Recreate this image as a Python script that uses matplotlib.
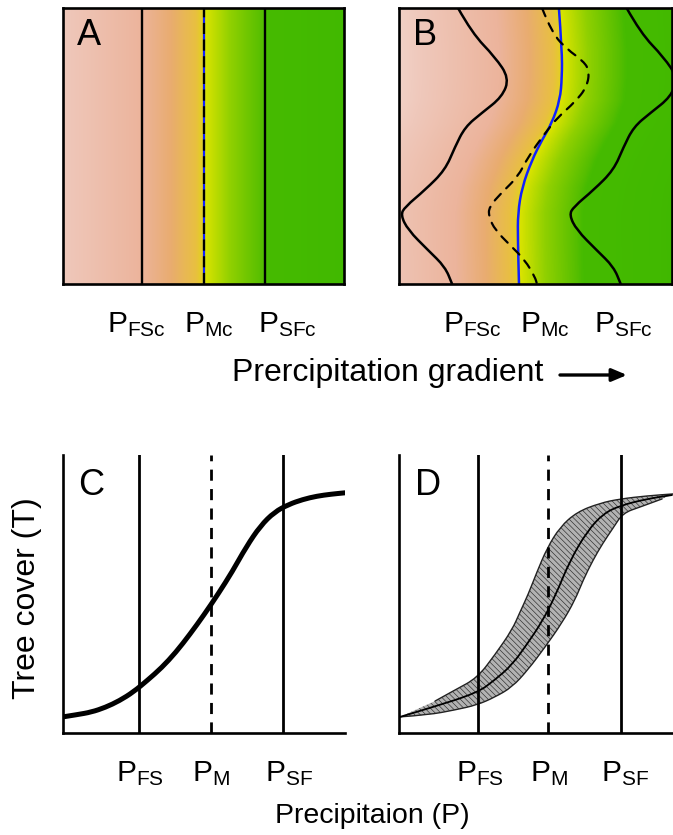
import numpy as np
import matplotlib
matplotlib.use("Agg")
import matplotlib.pyplot as plt
from matplotlib.colors import LinearSegmentedColormap
from matplotlib.path import Path
from matplotlib.patches import PathPatch

plt.rcParams['font.family'] = ['Liberation Sans', 'DejaVu Sans']
plt.rcParams['mathtext.fontset'] = 'custom'
plt.rcParams['mathtext.rm'] = 'Liberation Sans'
plt.rcParams['mathtext.it'] = 'Liberation Sans:italic'
plt.rcParams['hatch.linewidth'] = 0.45

# ---------------- data ----------------
# Panel A: straight critical thresholds (x position on 0-10 scale)
a_lines = [2.8, 5.0, 7.2]            # P_FSc, P_Mc, P_SFc
top_tick_pos = [2.62, 5.2, 8.0]
top_tick_labels = [r'P$_{\mathrm{FSc}}$', r'P$_{\mathrm{Mc}}$', r'P$_{\mathrm{SFc}}$']

# Panel B: wavy thresholds (x, y) on 0-10 scale
b_fs_x = [2.10, 2.60, 3.42, 3.92, 3.67, 2.95, 2.35, 1.99, 1.64, 0.93, 0.21, 0.06, 0.32, 1.03, 1.64, 1.89]
b_fs_y = [10.0, 9.09, 8.22, 7.46, 6.78, 6.20, 5.69, 4.96, 4.13, 3.41, 2.79, 2.50, 1.96, 1.23, 0.62, 0.0]
b_sf_x = [8.10, 8.60, 9.42, 9.92, 9.67, 8.95, 8.35, 7.99, 7.64, 6.93, 6.21, 6.06, 6.32, 7.03, 7.64, 7.89]
b_sf_y = [10.0, 9.09, 8.22, 7.46, 6.78, 6.20, 5.69, 4.96, 4.13, 3.41, 2.79, 2.50, 1.96, 1.23, 0.62, 0.0]
b_m_x = [5.69, 5.80, 5.80, 5.73, 5.44, 5.09, 4.73, 4.38, 4.23, 4.23, 4.27]
b_m_y = [10.0, 8.48, 7.50, 6.67, 5.83, 5.22, 4.49, 3.51, 2.57, 1.59, 0.0]
b_dash_x = [5.09, 5.44, 6.01, 6.51, 6.78, 6.69, 6.26, 5.66, 5.20, 4.59, 4.23, 3.67, 3.20, 3.20, 3.42, 3.95, 4.48, 4.84, 4.91]
b_dash_y = [10.0, 9.09, 8.48, 8.12, 7.75, 7.14, 6.59, 6.05, 5.47, 4.60, 3.88, 3.33, 2.79, 2.43, 1.96, 1.41, 0.87, 0.25, 0.0]

# Panel C: tree cover vs precipitation
c_p = [0, 0.5, 1.0, 1.5, 2.0, 2.5, 3.0, 3.5, 4.0, 4.5, 5.0, 5.5, 6.0, 6.5, 7.0, 7.5, 8.0, 8.5, 9.0, 9.5, 10.0]
c_t = [0.058, 0.066, 0.075, 0.092, 0.116, 0.148, 0.19, 0.235, 0.29, 0.355, 0.425, 0.50, 0.58, 0.67, 0.745, 0.795, 0.822, 0.84, 0.852, 0.859, 0.864]
c_lines = [2.70, 5.25, 7.80]
c_tick_pos = [2.73, 5.25, 8.0]
bottom_tick_labels = [r'P$_{\mathrm{FS}}$', r'P$_{\mathrm{M}}$', r'P$_{\mathrm{SF}}$']

# Panel D: band of curves
d_up_p = [1.28, 1.99, 2.77, 3.40, 4.01, 4.29, 4.57, 4.89, 5.25, 5.71, 6.31, 7.13, 7.84, 8.79, 9.72]
d_up_t = [0.115, 0.155, 0.198, 0.281, 0.371, 0.435, 0.496, 0.579, 0.665, 0.741, 0.795, 0.827, 0.842, 0.853, 0.860]
d_lo_p = [0.04, 1.03, 1.99, 2.77, 3.40, 4.01, 4.57, 5.18, 5.78, 6.24, 6.53, 6.88, 7.23, 7.59, 7.94, 8.55, 9.33]
d_lo_t = [0.058, 0.065, 0.083, 0.101, 0.129, 0.165, 0.227, 0.309, 0.396, 0.478, 0.550, 0.622, 0.683, 0.737, 0.791, 0.813, 0.842]
d_mid_p = [0.04, 1.10, 2.77, 3.40, 4.01, 4.57, 5.07, 5.53, 6.06, 6.67, 7.23, 7.84, 8.79, 9.68]
d_mid_t = [0.058, 0.09, 0.144, 0.191, 0.245, 0.324, 0.40, 0.49, 0.62, 0.725, 0.788, 0.818, 0.842, 0.856]
d_lines = [2.80, 5.28, 7.87]
d_tick_pos = [2.87, 5.32, 8.01]


# ---------------- helpers ----------------
def smooth_verts(x, y):
    pts = np.column_stack([x, y]).astype(float)
    verts = [pts[0]]
    codes = [Path.MOVETO]
    for i in range(1, len(pts) - 1):
        verts += [pts[i], (pts[i] + pts[i + 1]) / 2]
        codes += [Path.CURVE3, Path.CURVE3]
    verts.append(pts[-1])
    codes.append(Path.LINETO)
    return verts, codes


def smooth_line(ax, x, y, **kw):
    v, c = smooth_verts(x, y)
    ax.add_patch(PathPatch(Path(v, c), fill=False, capstyle='round', joinstyle='round', **kw))


# ---------------- figure ----------------
W, H = 673, 835
fig = plt.figure(figsize=(W / 100, H / 100), dpi=100)


def px_axes(x0, y0, x1, y1):
    return fig.add_axes([x0 / W, 1 - y1 / H, (x1 - x0) / W, (y1 - y0) / H])


axA = px_axes(63, 8, 344, 284)
axB = px_axes(399, 8, 672, 284)
axC = px_axes(63, 455, 345, 733)
axD = px_axes(399, 455, 681, 733)

# colormap as function of distance from the midpoint threshold
stops = [(-6.5, '#f3d8cf'), (-5.0, '#efc8bb'), (-2.24, '#ecb49c'), (-1.17, '#e9ac70'),
         (-0.28, '#e8c040'), (-0.04, '#e4d020'), (0.04, '#dce400'), (0.96, '#90d000'),
         (2.1, '#55be00'), (2.3, '#46bb00'), (6.5, '#3fb800')]
dmin, dmax = stops[0][0], stops[-1][0]
cmap = LinearSegmentedColormap.from_list(
    'veg', [((d - dmin) / (dmax - dmin), c) for d, c in stops])

lw_box = 1.9

# Panel A
xs = np.linspace(0, 10, 600)
field_a = np.tile(xs - a_lines[1], (2, 1))
axA.imshow(field_a, extent=(0, 10, 0, 10), origin='lower', aspect='auto',
           cmap=cmap, vmin=dmin, vmax=dmax, interpolation='bilinear')
axA.axvline(a_lines[0], color='black', lw=1.7)
axA.axvline(a_lines[2], color='black', lw=1.7)
axA.axvline(a_lines[1], color='#1020ff', lw=1.6)
axA.axvline(a_lines[1], color='black', lw=1.6, linestyle=(0, (5, 2.5)))
axA.set_xlim(0, 10)
axA.set_ylim(0, 10)
axA.text(0.05, 0.962, 'A', transform=axA.transAxes, fontsize=26, va='top', ha='left')

# Panel B
xb_max = 273 / 28.1
xs_b = np.linspace(0, xb_max, 500)
ys_b = np.linspace(0, 10, 300)
order = np.argsort(b_m_y)
xm = np.interp(ys_b, np.array(b_m_y)[order], np.array(b_m_x)[order])
field_b = xs_b[None, :] - xm[:, None]
axB.imshow(field_b, extent=(0, xb_max, 0, 10), origin='lower', aspect='auto',
           cmap=cmap, vmin=dmin, vmax=dmax, interpolation='bilinear')
smooth_line(axB, b_fs_x, b_fs_y, edgecolor='black', lw=1.8)
smooth_line(axB, b_sf_x, b_sf_y, edgecolor='black', lw=1.8)
smooth_line(axB, b_m_x, b_m_y, edgecolor='#1020ff', lw=1.8)
smooth_line(axB, b_dash_x, b_dash_y, edgecolor='black', lw=1.6, linestyle=(0, (4, 3.5)))
axB.set_xlim(0, xb_max)
axB.set_ylim(0, 10)
axB.text(14 / 273, 0.962, 'B', transform=axB.transAxes, fontsize=26, va='top', ha='left')

for ax in (axA, axB):
    ax.set_yticks([])
    ax.set_xticks(top_tick_pos)
    ax.set_xticklabels(top_tick_labels, fontsize=21.5)
    ax.tick_params(axis='x', length=0, pad=19)
    for s in ax.spines.values():
        s.set_linewidth(lw_box)

# Panel C
smooth_line(axC, c_p, c_t, edgecolor='black', lw=3.6)
axC.axvline(c_lines[0], color='black', lw=2.0)
axC.axvline(c_lines[2], color='black', lw=2.0)
axC.axvline(c_lines[1], color='black', lw=2.0, linestyle=(0, (4, 3)))
axC.text(15 / 282, 0.953, 'C', transform=axC.transAxes, fontsize=26, va='top', ha='left')
axC.set_xticks(c_tick_pos)

# Panel D
vu, cu = smooth_verts(d_up_p, d_up_t)
vl, cl = smooth_verts(d_lo_p[::-1], d_lo_t[::-1])
cl = [Path.LINETO] + cl[1:]
band = Path(vu + vl + [vu[0]], cu + cl + [Path.CLOSEPOLY])
axD.add_patch(PathPatch(band, facecolor='#b2b2b2', edgecolor='#2a2a2a',
                        hatch='\\\\\\\\\\\\', lw=0))
smooth_line(axD, d_up_p, d_up_t, edgecolor='#222222', lw=1.0)
smooth_line(axD, d_lo_p, d_lo_t, edgecolor='#222222', lw=1.0)
smooth_line(axD, d_mid_p, d_mid_t, edgecolor='black', lw=1.3)
axD.axvline(d_lines[0], color='black', lw=2.0)
axD.axvline(d_lines[2], color='black', lw=2.0)
axD.axvline(d_lines[1], color='black', lw=2.0, linestyle=(0, (4, 3)))
axD.text(16 / 282, 0.953, 'D', transform=axD.transAxes, fontsize=26, va='top', ha='left')
axD.set_xticks(d_tick_pos)

for ax in (axC, axD):
    ax.set_xlim(0, 10)
    ax.set_ylim(0, 1)
    ax.set_yticks([])
    ax.set_xticklabels(bottom_tick_labels, fontsize=21.5)
    ax.tick_params(axis='x', length=0, pad=19)
    ax.spines['top'].set_visible(False)
    ax.spines['right'].set_visible(False)
    ax.spines['left'].set_linewidth(lw_box)
    ax.spines['bottom'].set_linewidth(lw_box)

# Labels
fig.text(388 / W, 1 - 373 / H, 'Prercipitation gradient', fontsize=23, ha='center', va='center')
axA.annotate('', xy=(627 / W, 1 - 375 / H), xytext=(560 / W, 1 - 375 / H),
             xycoords='figure fraction', textcoords='figure fraction', annotation_clip=False,
             arrowprops=dict(arrowstyle='-|>,head_length=0.9,head_width=0.38', lw=2.4,
                             color='black', shrinkA=0, shrinkB=0))
fig.text(372 / W, 1 - 816 / H, 'Precipitaion (P)', fontsize=20.5, ha='center', va='center')
fig.text(27 / W, 1 - 598 / H, 'Tree cover (T)', fontsize=23, ha='center', va='center', rotation=90)

fig.savefig('out.png', dpi=100)
